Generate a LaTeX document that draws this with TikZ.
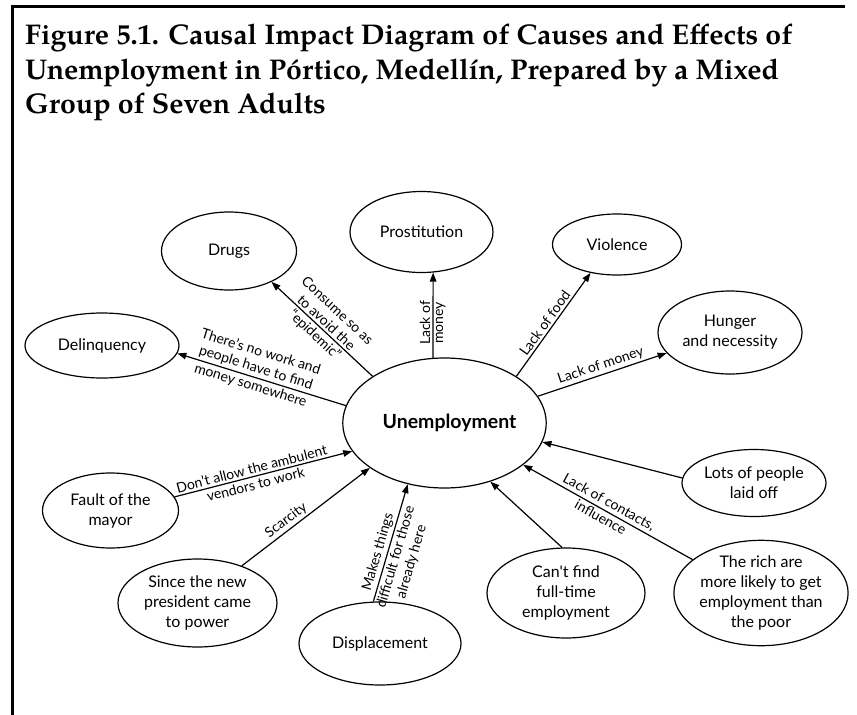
\documentclass[tikz,border=0pt]{standalone}
\usepackage{fontspec}
\newfontfamily\diagfont{Lato}
\newfontfamily\titlefont{TeX Gyre Pagella}
\usetikzlibrary{shapes.geometric,arrows.meta}

\begin{document}
\begin{tikzpicture}[x=1pt,y=-1pt,
  bubble/.style={ellipse, draw, line width=1.2pt, inner sep=0pt, align=center,
    font=\diagfont\fontsize{16}{20}\selectfont},
  link/.style={line width=1.2pt, -{Triangle[length=9pt,width=6.5pt]}},
  lbltext/.style={inner sep=2.2pt, align=center, font=\diagfont\fontsize{14}{16.5}\selectfont},
  lbl/.style={lbltext, sloped},
  heading/.style={anchor=base west, inner sep=0pt,
    font=\titlefont\bfseries\fontsize{28.5}{34}\selectfont}]

\useasboundingbox (0,0) rectangle (857,715);

% frame rules
\draw[line width=3pt] (11,6) -- (845,6);
\draw[line width=2.6pt] (12.5,4.5) -- (12.5,715);

% heading
\node[heading] (t1) at (25,44.5) {Figure 5.1. Causal Impact Diagram of Causes and Effects of};
\node[heading] (t2) at (25,79) {Unemployment in Pórtico, Medellín, Prepared by a Mixed};
\node[heading] (t3) at (25,113.5) {Group of Seven Adults};

% central problem
\node[bubble, minimum width=203pt, minimum height=130pt,
  font=\diagfont\bfseries\fontsize{19.5}{20}\selectfont] (U) at (444.5,423) {\hspace*{10pt}Unemployment};

% effects
\node[bubble, minimum width=143pt, minimum height=81pt] (pros) at (421.5,232) {Prostitution};
\node[bubble, minimum width=129pt, minimum height=61pt] (viol) at (617,244.5) {Violence};
\node[bubble, minimum width=144pt, minimum height=83pt] (hung) at (730,332.5) {Hunger\\and necessity};
\node[bubble, minimum width=135pt, minimum height=78pt] (drugs) at (229,251) {Drugs};
\node[bubble, minimum width=154pt, minimum height=65pt] (delinq) at (102,345.5) {Delinquency};

% causes
\node[bubble, minimum width=136pt, minimum height=75pt] (mayor) at (110.5,510.5) {Fault of the\\mayor};
\node[bubble, minimum width=159pt, minimum height=88pt] (pres) at (197.5,603) {Since the new\\president came\\to power};
\node[bubble, minimum width=162pt, minimum height=83pt] (displ) at (380,643.5) {Displacement};
\node[bubble, minimum width=158pt, minimum height=90pt] (cant) at (566,593) {Can't find\\full-time\\employment};
\node[bubble, minimum width=144pt, minimum height=67pt] (laid) at (754,483) {Lots of people\\laid off};
\node[bubble, minimum width=174pt, minimum height=90pt] (rich) at (761,593) {The rich are\\more likely to get\\employment than\\the poor};

% effect links
\draw[link] (U.100) -- (pros.-74)
  node[lbltext, pos=0.41, rotate=90, anchor=south] (l1a) {Lack of}
  node[lbltext, pos=0.41, rotate=90, anchor=north] (l1b) {money};
\draw[link] (U.33) -- (viol.227)
  node[lbl, pos=0.47, above] (l2) {Lack of food};
\draw[link] (U.16) -- (hung.198)
  node[lbl, pos=0.51, above] (l3) {Lack of money};
\draw[link] (U.147) -- (drugs.-36)
  node[lbl, pos=0.51, above] (l4a) {Consume so as\\to avoid the}
  node[lbl, pos=0.51, below] (l4b) {“epidemic”};
\draw[link] (U.170) -- (delinq.-6)
  node[lbl, pos=0.55, above] (l5a) {There’s no work and\\people have to find}
  node[lbl, pos=0.55, below] (l5b) {money somewhere};

% cause links
\draw[link] (mayor.12) -- (U.197)
  node[lbl, pos=0.445, above] (l6a) {Don’t allow the ambulent}
  node[lbl, pos=0.445, below] (l6b) {vendors to work};
\draw[link] (pres.40) -- (U.211)
  node[lbl, pos=0.39, above] (l7) {Scarcity};
\draw[link] (displ.99) -- (U.239)
  node[lbl, pos=0.40, above] (l8a) {Makes things}
  node[lbl, pos=0.40, below] (l8b) {difficult for those\\already here};
\draw[link] (cant.95) -- (U.-52);
\draw[link] (laid.176) -- (U.-11);
\draw[link] (rich.154) -- (U.-28)
  node[lbl, pos=0.52, above] (l9a) {Lack of contacts,}
  node[lbl, pos=0.52, below] (l9b) {influence};
\end{tikzpicture}
\end{document}
